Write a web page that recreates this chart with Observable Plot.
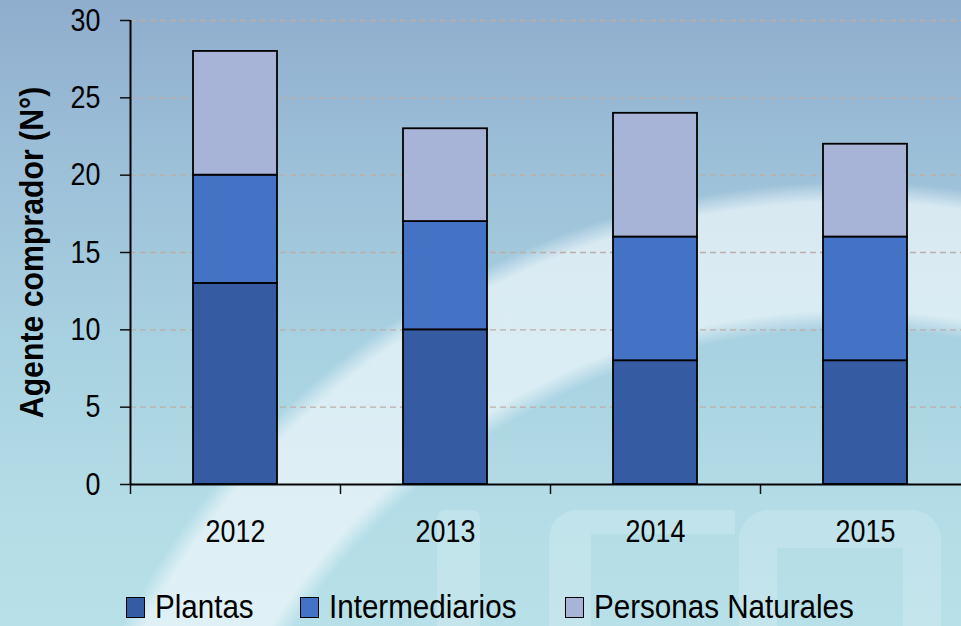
<!DOCTYPE html>
<html>
<head>
<meta charset="utf-8">
<script src="https://cdn.jsdelivr.net/npm/d3@7"></script>
<script src="https://cdn.jsdelivr.net/npm/@observablehq/plot@0.6"></script>
<style>
html, body { margin: 0; padding: 0; width: 961px; height: 626px; overflow: hidden; }
#wrap {
  position: relative; width: 961px; height: 626px; overflow: hidden;
  font-family: "Liberation Sans", Arial, sans-serif;
  background:
    radial-gradient(circle 1200px at 850px 1000px, rgba(255,255,255,0) 670px, rgba(238,247,251,0.72) 690px, rgba(238,247,251,0.72) 798px, rgba(255,255,255,0) 818px),
    linear-gradient(to bottom, #8fadcd 0%, #9cbfd8 25%, #a8d1e1 55%, #b3dce6 80%, #b8e0e8 100%);
}
.wm { position: absolute; box-sizing: border-box; }
#chart { position: absolute; left: 0; top: 0; }
.leg { position: absolute; top: 588px; height: 36px; }
.leg .sw { position: absolute; left: 0; top: 9px; width: 19px; height: 21px; box-sizing: border-box; border: 1.6px solid #000; }
.leg .lb { position: absolute; top: 0; white-space: nowrap; line-height: 36px; color: #000; transform-origin: 0 50%; }
</style>
</head>
<body>
<div id="wrap">
  <div class="wm" style="left:437px;top:510px;width:43px;height:130px;background:rgba(255,255,255,0.18);border-radius:8px 8px 0 0;"></div>
  <div class="wm" style="left:549px;top:510px;width:186px;height:150px;border-top:24px solid rgba(255,255,255,0.18);border-left:42px solid rgba(255,255,255,0.18);border-radius:28px 0 0 0;"></div>
  <div class="wm" style="left:739px;top:510px;width:202px;height:150px;border:38px solid rgba(255,255,255,0.17);border-bottom:none;border-radius:30px 30px 0 0;"></div>
  <div id="chart"></div>
  <div id="legend"></div>
</div>
<script>
// ---- data ----
const years = ["2012", "2013", "2014", "2015"];
const seriesNames = ["Plantas", "Intermediarios", "Personas Naturales"];
const plantas = [13, 10, 8, 8];
const intermediarios = [7, 7, 8, 8];
const personasNaturales = [8, 6, 8, 6];
const yTicks = [0, 5, 10, 15, 20, 25, 30];
const seriesColors = ["#355ca2", "#4472c5", "#a7b4d8"];
const yTitle = "Agente comprador (N°)";

const seriesValues = [plantas, intermediarios, personasNaturales];
const rows = [];
years.forEach((yr, i) => {
  seriesNames.forEach((s, k) => rows.push({year: yr, series: s, value: seriesValues[k][i]}));
});

// Is a narrow face available? (compare widths on a canvas)
const ctx = document.createElement("canvas").getContext("2d");
ctx.font = "40px 'Liberation Sans'";
const wideW = ctx.measureText("Intermediarios 2012").width;
ctx.font = "40px 'Liberation Sans Narrow', 'Liberation Sans'";
const narrowW = ctx.measureText("Intermediarios 2012").width;
const hasNarrow = narrowW < wideW * 0.95;
const narrowFamily = hasNarrow ? "'Liberation Sans Narrow', 'Liberation Sans', Arial, sans-serif" : "'Liberation Sans', Arial, sans-serif";
const fakeSqueeze = hasNarrow ? 1 : 0.84;

const chart = Plot.plot({
  width: 961,
  height: 560,
  marginLeft: 130,
  marginTop: 20,
  marginBottom: 76,
  marginRight: -9,
  style: {background: "transparent", fontFamily: narrowFamily, color: "#000", overflow: "visible"},
  x: {domain: years, paddingInner: 0.6, paddingOuter: 0.3, label: null},
  y: {domain: [0, 30], label: null},
  color: {domain: seriesNames, range: seriesColors},
  marks: [
    Plot.ruleY(yTicks.filter(t => t > 0), {y: d => d, stroke: "#bcaea6", strokeWidth: 1.3, strokeDasharray: "6,4"}),
    Plot.barY(rows, {x: "year", y: "value", fill: "series", order: seriesNames, stroke: "#000", strokeWidth: 1.8}),
    Plot.axisY({ticks: yTicks, tickSize: 10, tickPadding: 20, fontSize: 32, stroke: "#111", strokeWidth: 1.5, label: null}),
    Plot.axisX({tickSize: 0, tickPadding: 35, fontSize: 32, label: null}),
    Plot.ruleX(years, {x: d => d, dx: -105, y1: 0, y2: 0, insetBottom: -10, stroke: "#111", strokeWidth: 1.5}),
    Plot.ruleX([years[0]], {x: d => d, dx: -105, y1: 0, y2: 30, stroke: "#000", strokeWidth: 2}),
    Plot.ruleY([0], {y: d => d, stroke: "#000", strokeWidth: 2}),
    Plot.text([yTitle], {text: d => d, frameAnchor: "left", textAnchor: "middle", rotate: -90, dx: -98, fontWeight: "bold", fontSize: 34, fill: "#000", fontFamily: "'Liberation Sans', Arial, sans-serif"})
  ]
});
document.getElementById("chart").appendChild(chart);

// Horizontally condense text where needed
function squeeze(t, sx) {
  if (sx === 1) return;
  const x = t.getAttribute("x"), y = t.getAttribute("y");
  let tx = 0, ty = 0;
  if (x && !/em$/.test(x)) { tx = +x; t.removeAttribute("x"); }
  if (y && !/em$/.test(y)) { ty = +y; t.removeAttribute("y"); }
  const tr = t.getAttribute("transform") || "";
  t.setAttribute("transform", `${tr} translate(${tx},${ty}) scale(${sx},1)`);
}
chart.querySelectorAll("text").forEach(t => {
  squeeze(t, t.textContent === yTitle ? 0.89 : fakeSqueeze);
});

// Legend
const legendLeft = [126, 300, 565];
const legend = document.getElementById("legend");
seriesNames.forEach((s, k) => {
  const item = document.createElement("div");
  item.className = "leg";
  item.style.left = legendLeft[k] + "px";
  const sw = document.createElement("div");
  sw.className = "sw";
  sw.style.background = seriesColors[k];
  const lb = document.createElement("div");
  lb.className = "lb";
  lb.style.left = "29px";
  lb.style.fontFamily = narrowFamily;
  lb.style.fontSize = hasNarrow ? "35px" : "34px";
  lb.style.transform = hasNarrow ? "scaleX(1.03)" : "scaleX(0.87)";
  lb.textContent = s;
  item.appendChild(sw);
  item.appendChild(lb);
  legend.appendChild(item);
});
</script>
</body>
</html>
